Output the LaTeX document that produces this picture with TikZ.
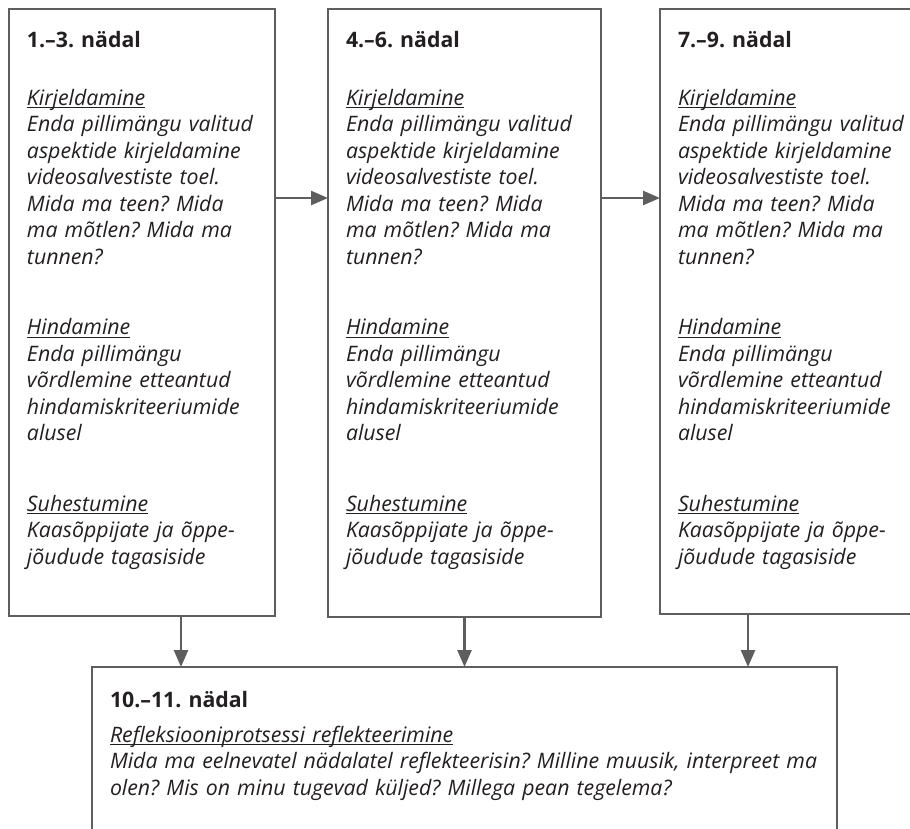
\documentclass[tikz,border=0pt]{standalone}
\usepackage{fontspec}
\setmainfont{Open Sans}
\usetikzlibrary{arrows.meta,calc}
\definecolor{linegray}{HTML}{5E5E5E}
\definecolor{txtc}{HTML}{231F20}
\newcommand\myul[1]{\leavevmode\setbox0\hbox{#1}\rlap{\color{txtc}\rule[-3.2pt]{\wd0}{1pt}}\box0}
\newcommand\weekbody{%
\myul{Kirjeldamine}\\
Enda pillimängu valitud\\
aspektide kirjeldamine\\
videosalvestiste toel.\\
Mida ma teen? Mida\\
ma mõtlen? Mida ma\\
tunnen?\\[44pt]
\myul{Hindamine}\\
Enda pillimängu\\
võrdlemine etteantud\\
hindamiskriteeriumide\\
alusel\\[44pt]
\myul{Suhestumine}\\
Kaasõppijate ja õppe-\\
jõudude tagasiside}
\begin{document}
\frenchspacing
\begin{tikzpicture}[x=1pt,y=1pt,
  box/.style={draw=linegray, line width=2.5pt, fill=white, inner sep=0pt, outer sep=0pt, anchor=north west},
  arr/.style={draw=linegray, line width=2.5pt, -{Triangle[length=17pt,width=14pt]}},
  txtbox/.style={anchor=north west, inner sep=0pt, outer sep=0pt, text=txtc, align=left, text width=262pt,
    font=\frenchspacing\fontsize{21.3}{26.5}\selectfont\itshape}]
\path[use as bounding box] (0,0) rectangle (910,-828);
\clip (0,0) rectangle (910,-828);
\fill[white] (0,0) rectangle (910,-828);
% boxes
\node[box, minimum width=266pt, minimum height=607pt] (b1) at (9,-9) {};
\node[box, minimum width=273pt, minimum height=608pt] (b2) at (328,-9) {};
\node[box, minimum width=270pt, minimum height=605pt] (b3) at (660,-9) {};
\node[box, minimum width=745pt, minimum height=180pt] (bb) at (92,-667) {};
% texts
\node[txtbox] (t1) at (27,-27) {\rule{0pt}{20pt}{\bfseries\upshape 1.–3. nädal}\\[31.5pt]\weekbody};
\node[txtbox] (t2) at (346,-27) {\rule{0pt}{20pt}{\bfseries\upshape 4.–6. nädal}\\[31.5pt]\weekbody};
\node[txtbox] (t3) at (678,-27) {\rule{0pt}{20pt}{\bfseries\upshape 7.–9. nädal}\\[31.5pt]\weekbody};
\node[txtbox, text width=740pt] (t4) at (110,-685)
  {\rule{0pt}{22pt}{\bfseries\upshape 10.–11. nädal}\\[8.5pt]
   \myul{Refleksiooniprotsessi reflekteerimine}\\
   Mida ma eelnevatel nädalatel reflekteerisin? Milline muusik, interpreet ma\\
   olen? Mis on minu tugevad küljed? Millega pean tegelema?};
% connectors
\draw[arr] ([yshift=-189pt]b1.north east) -- ([yshift=-189pt]b2.north west);
\draw[arr] ([yshift=-189pt]b2.north east) -- ([yshift=-189pt]b3.north west);
\coordinate (c1) at ([xshift=-283.5pt]bb.north);
\coordinate (c2) at (bb.north);
\coordinate (c3) at ([xshift=283.5pt]bb.north);
\draw[arr] (c1 |- b1.south) -- (c1);
\draw[arr] (c2 |- b2.south) -- (c2);
\draw[arr] (c3 |- b3.south) -- (c3);
\end{tikzpicture}
\end{document}
